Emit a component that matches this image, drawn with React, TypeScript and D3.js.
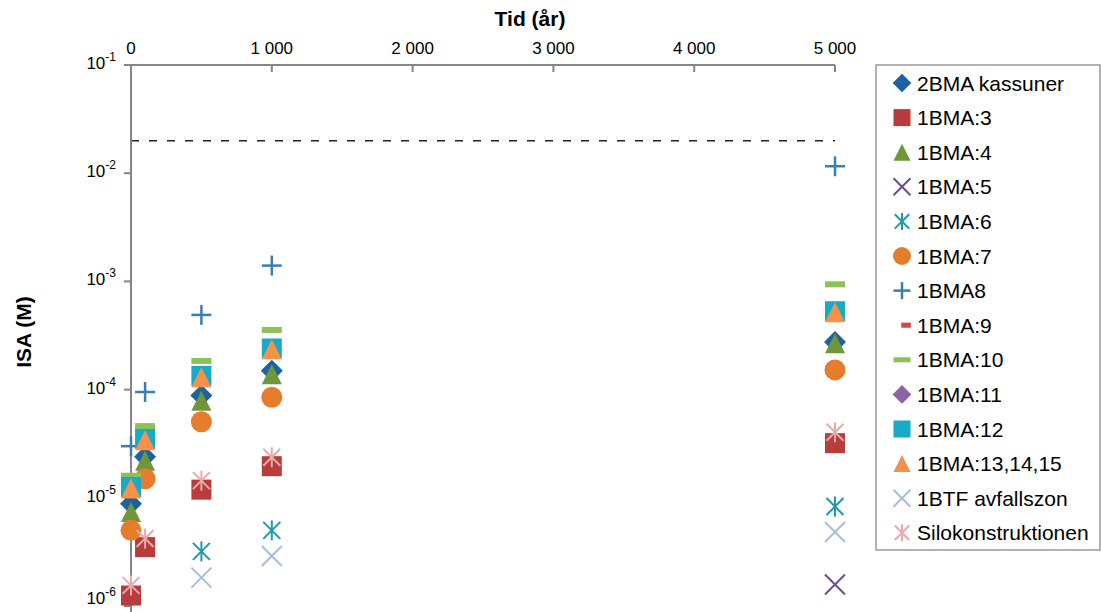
import React from "react";
import * as d3 from "d3";

// Time points (år)
const times = [0, 100, 500, 1000, 5000];

// ISA (M) per series; null = no value
const kassuner2BMA = [8.8e-6, 2.39e-5, 8.8e-5, 1.49e-4, 2.76e-4];
const bma3 = [1.25e-6, 3.5e-6, 1.19e-5, 1.96e-5, 3.2e-5];
const bma4 = [7.4e-6, 2.2e-5, 7.9e-5, 1.39e-4, 2.68e-4];
const bma5 = [null, null, null, null, 1.58e-6];
const bma6 = [null, null, 3.2e-6, 5.0e-6, 8.3e-6];
const bma7 = [5.0e-6, 1.5e-5, 5.05e-5, 8.5e-5, 1.52e-4];
const bma8 = [3.0e-5, 9.5e-5, 4.9e-4, 1.4e-3, 1.16e-2];
const bma9: (number | null)[] = [null, null, null, null, null];
const bma10 = [1.6e-5, 4.6e-5, 1.84e-4, 3.56e-4, 9.4e-4];
const bma11: (number | null)[] = [null, null, null, null, null];
const bma12 = [1.26e-5, 3.5e-5, 1.34e-4, 2.4e-4, 5.3e-4];
const bma131415 = [1.22e-5, 3.4e-5, 1.3e-4, 2.36e-4, 5.2e-4];
const btf = [null, null, 1.83e-6, 2.9e-6, 4.83e-6];
const silo = [1.55e-6, 4.2e-6, 1.44e-5, 2.37e-5, 4.03e-5];

const seriesNames = [
  "2BMA kassuner",
  "1BMA:3",
  "1BMA:4",
  "1BMA:5",
  "1BMA:6",
  "1BMA:7",
  "1BMA8",
  "1BMA:9",
  "1BMA:10",
  "1BMA:11",
  "1BMA:12",
  "1BMA:13,14,15",
  "1BTF avfallszon",
  "Silokonstruktionen",
];
const seriesValues = [
  kassuner2BMA, bma3, bma4, bma5, bma6, bma7, bma8, bma9, bma10, bma11, bma12, bma131415, btf, silo,
];
const seriesShapes = [
  "diamond", "square", "triangle", "x", "star", "circle", "plus", "dash", "bar", "diamond", "square", "triangle", "x", "star",
];
const seriesColors = [
  "#1F62A0", "#B83C3B", "#6F963B", "#6C4C8C", "#1D9AAA", "#E67D2C", "#3B7EB3", "#D64545",
  "#8FC15A", "#8C62A8", "#19AAC8", "#F59148", "#A6BEDD", "#E9AAAA",
];

const thresholdISA = 0.02;
const xTicks = [0, 1000, 2000, 3000, 4000, 5000];
const yTickExps = [-1, -2, -3, -4, -5, -6];

const xTitle = "Tid (år)";
const yTitle = "ISA (M)";

const FONT = "'Liberation Sans', Arial, Helvetica, sans-serif";

function Marker({ shape, cx, cy, s, color }: { shape: string; cx: number; cy: number; s: number; color: string }) {
  const h = s / 2;
  switch (shape) {
    case "diamond": {
      const d = s * 0.55;
      return <polygon points={`${cx},${cy - d} ${cx + d},${cy} ${cx},${cy + d} ${cx - d},${cy}`} fill={color} />;
    }
    case "square":
      return <rect x={cx - h} y={cy - h} width={s} height={s} fill={color} />;
    case "triangle":
      return <polygon points={`${cx},${cy - h} ${cx + h},${cy + h} ${cx - h},${cy + h}`} fill={color} />;
    case "circle":
      return <circle cx={cx} cy={cy} r={h + 0.5} fill={color} />;
    case "x":
      return (
        <g stroke={color} strokeWidth={2}>
          <line x1={cx - h} y1={cy - h} x2={cx + h} y2={cy + h} />
          <line x1={cx - h} y1={cy + h} x2={cx + h} y2={cy - h} />
        </g>
      );
    case "star":
      return (
        <g stroke={color} strokeWidth={2}>
          <line x1={cx - h * 0.85} y1={cy - h * 0.85} x2={cx + h * 0.85} y2={cy + h * 0.85} />
          <line x1={cx - h * 0.85} y1={cy + h * 0.85} x2={cx + h * 0.85} y2={cy - h * 0.85} />
          <line x1={cx} y1={cy - h} x2={cx} y2={cy + h} />
        </g>
      );
    case "plus":
      return (
        <g stroke={color} strokeWidth={2.5}>
          <line x1={cx - h} y1={cy} x2={cx + h} y2={cy} />
          <line x1={cx} y1={cy - h} x2={cx} y2={cy + h} />
        </g>
      );
    case "bar":
      return <rect x={cx - h} y={cy - s * 0.15} width={s} height={s * 0.3} fill={color} />;
    case "dash":
      return <rect x={cx - s * 0.28} y={cy - s * 0.15} width={s * 0.56} height={s * 0.3} fill={color} />;
    default:
      return null;
  }
}

export default function App() {
  const W = 1101;
  const H = 612;
  const x = d3.scaleLinear().domain([0, 5000]).range([131, 835]);
  const y = d3.scaleLog().domain([1e-6, 0.1]).range([606, 65]);
  const fmt = (v: number) => d3.format(",")(v).replace(/,/g, " ");
  const axisColor = "#868686";

  const legendX = 876;
  const legendY = 65;
  const legendW = 224;
  const legendH = 485;
  const rowY0 = 83;
  const rowStep = 34.6;

  return (
    <svg
      width={W}
      height={H}
      style={{ position: "absolute", left: 0, top: 0, background: "#fff" }}
      fontFamily={FONT}
    >
      <rect x={0} y={0} width={W} height={H} fill="#fff" />

      {/* Axis titles */}
      <text x={530} y={26} textAnchor="middle" fontSize={21} fontWeight="bold" fill="#000">
        {xTitle}
      </text>
      <text
        transform={`translate(31,332) rotate(-90)`}
        textAnchor="middle"
        fontSize={21}
        fontWeight="bold"
        fill="#000"
      >
        {yTitle}
      </text>

      {/* Threshold dashed line */}
      <line
        x1={x(0)}
        x2={x(5000)}
        y1={y(thresholdISA)}
        y2={y(thresholdISA)}
        stroke="#222"
        strokeWidth={1.5}
        strokeDasharray="8 10"
      />

      {/* Top x axis */}
      <line x1={x(0)} x2={x(5000)} y1={y(0.1)} y2={y(0.1)} stroke={axisColor} strokeWidth={2} />
      {xTicks.map((t) => (
        <g key={t}>
          <line x1={x(t)} x2={x(t)} y1={y(0.1)} y2={y(0.1) + 7} stroke={axisColor} strokeWidth={2} />
          <text x={x(t)} y={54} textAnchor="middle" fontSize={17} fill="#000">
            {fmt(t)}
          </text>
        </g>
      ))}

      {/* Y axis */}
      <line x1={x(0)} x2={x(0)} y1={y(0.1)} y2={H} stroke={axisColor} strokeWidth={2} />
      {yTickExps.map((e) => {
        const yy = y(Math.pow(10, e));
        return (
          <g key={e}>
            <line x1={x(0) - 7} x2={x(0)} y1={yy} y2={yy} stroke={axisColor} strokeWidth={2} />
            <text x={116} y={Math.min(yy + 4, 604)} textAnchor="end" fontSize={17} fill="#000">
              10
              <tspan fontSize={12} dy={-8}>
                {`-${-e}`}
              </tspan>
            </text>
          </g>
        );
      })}

      {/* Data markers */}
      {seriesValues.map((vals, si) => (
        <g key={si}>
          {vals.map((v, i) =>
            v == null ? null : (
              <Marker
                key={i}
                shape={seriesShapes[si]}
                cx={x(times[i])}
                cy={y(v)}
                s={20}
                color={seriesColors[si]}
              />
            )
          )}
        </g>
      ))}

      {/* Legend */}
      <rect x={legendX} y={legendY} width={legendW} height={legendH} fill="#fff" stroke="#808080" strokeWidth={1.2} />
      {seriesNames.map((name, i) => {
        const cy = rowY0 + i * rowStep;
        const shape = seriesShapes[i];
        const cx = shape === "dash" ? 906 : 902;
        return (
          <g key={name}>
            <Marker shape={shape} cx={cx} cy={cy} s={17} color={seriesColors[i]} />
            <text x={917} y={cy + 7.5} fontSize={21} fill="#000">
              {name}
            </text>
          </g>
        );
      })}
    </svg>
  );
}
